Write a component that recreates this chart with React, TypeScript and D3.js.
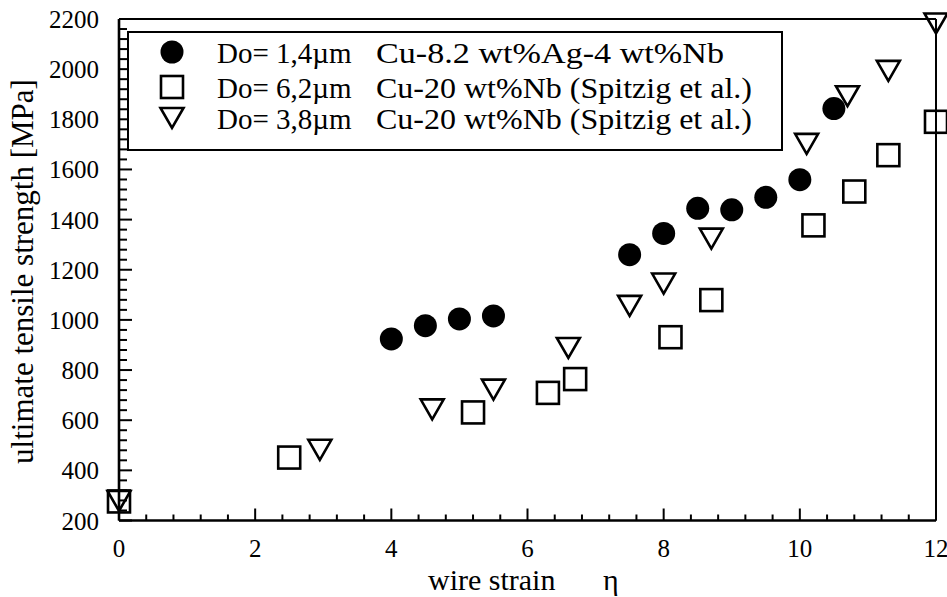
import React from "react";
import * as d3 from "d3";

const circleX = [4, 4.5, 5, 5.5, 7.5, 8, 8.5, 9, 9.5, 10, 10.5];
const circleY = [924, 977, 1004, 1016, 1260, 1345, 1445, 1439, 1489, 1559, 1843];
const squareX = [0, 2.5, 5.2, 6.3, 6.7, 8.1, 8.7, 10.2, 10.8, 11.3, 12];
const squareY = [276, 451, 631, 709, 764, 931, 1079, 1377, 1512, 1657, 1790];
const triX = [0, 2.95, 4.6, 5.5, 6.6, 7.5, 8, 8.7, 10.1, 10.7, 11.3, 12];
const triY = [278, 482, 643, 722, 888, 1056, 1145, 1324, 1702, 1892, 1993, 2182];

const xTicks = [0, 2, 4, 6, 8, 10, 12];
const yTicks = [200, 400, 600, 800, 1000, 1200, 1400, 1600, 1800, 2000, 2200];

const legendDo = ["Do= 1,4µm", "Do= 6,2µm", "Do= 3,8µm"];
const legendAlloy = ["Cu-8.2 wt%Ag-4 wt%Nb", "Cu-20 wt%Nb (Spitzig et al.)", "Cu-20 wt%Nb (Spitzig et al.)"];
const legendAlloyWidth = [348, 376, 376];

const W = 947, H = 597;
const L = 119, R = 936, T = 19, B = 520.5;
const FONT = "'Liberation Serif', 'Times New Roman', serif";

const x = d3.scaleLinear().domain([0, 12]).range([L, R]);
const y = d3.scaleLinear().domain([200, 2200]).range([B, T]);

const SQ = 22; // square side
const TW = 23, TH = 20; // triangle width/height

function Circle({ cx, cy }: { cx: number; cy: number }) {
  return <circle cx={cx} cy={cy} r={11.5} fill="#000" />;
}
function Square({ cx, cy }: { cx: number; cy: number }) {
  return (
    <rect x={cx - SQ / 2} y={cy - SQ / 2} width={SQ} height={SQ} fill="none" stroke="#000" strokeWidth={2.6} />
  );
}
function Tri({ cx, cy }: { cx: number; cy: number }) {
  const p = d3.path();
  p.moveTo(cx - TW / 2, cy - TH / 2);
  p.lineTo(cx + TW / 2, cy - TH / 2);
  p.lineTo(cx, cy + TH / 2);
  p.closePath();
  return <path d={p.toString()} fill="none" stroke="#000" strokeWidth={2.6} strokeLinejoin="miter" />;
}

export default function App() {
  const xMinor = d3.range(0, 12.0001, 0.4).filter((v) => Math.abs(v / 2 - Math.round(v / 2)) > 1e-6);
  const yMinor = d3.range(200, 2200.001, 40).filter((v) => v % 200 !== 0);
  const legendRowY = [52, 87, 118];
  return (
    <svg width={W} height={H} style={{ position: "absolute", left: 0, top: 0, background: "#fff" }}>
      <rect x={0} y={0} width={W} height={H} fill="#fff" />
      {/* frame */}
      <line x1={R} y1={T} x2={R} y2={B} stroke="#000" strokeWidth={2} />
      <line x1={L} y1={T} x2={R} y2={T} stroke="#000" strokeWidth={2} />
      <line x1={L} y1={T} x2={L} y2={B} stroke="#000" strokeWidth={2.6} />
      <line x1={L} y1={B} x2={R} y2={B} stroke="#000" strokeWidth={2.6} />
      {/* x ticks */}
      {xTicks.map((t) => (
        <line key={"xt" + t} x1={x(t)} x2={x(t)} y1={B} y2={B - 12} stroke="#000" strokeWidth={2} />
      ))}
      {xMinor.map((t) => (
        <line key={"xm" + t} x1={x(t)} x2={x(t)} y1={B} y2={B - 6} stroke="#000" strokeWidth={2} />
      ))}
      {yTicks.map((t) => (
        <line key={"yt" + t} x1={L} x2={L + 13} y1={y(t)} y2={y(t)} stroke="#000" strokeWidth={2} />
      ))}
      {yMinor.map((t) => (
        <line key={"ym" + t} x1={L} x2={L + 8} y1={y(t)} y2={y(t)} stroke="#000" strokeWidth={2} />
      ))}
      {/* tick labels */}
      {xTicks.map((t) => (
        <text key={"xl" + t} x={x(t)} y={557} textAnchor="middle" fontFamily={FONT} fontSize={25}>
          {t}
        </text>
      ))}
      {yTicks.map((t) => (
        <text key={"yl" + t} x={99} y={y(t) + 9} textAnchor="end" fontFamily={FONT} fontSize={25}>
          {t}
        </text>
      ))}
      {/* axis labels */}
      <text x={428} y={590} fontFamily={FONT} fontSize={30}>wire strain</text>
      <text x={603} y={590} fontFamily={FONT} fontSize={30}>η</text>
      <text transform={`translate(33, 271.5) rotate(-90)`} textAnchor="middle" fontFamily={FONT} fontSize={31}>
        ultimate tensile strength [MPa]
      </text>
      {/* legend */}
      <rect x={128} y={32} width={654} height={118} fill="#fff" stroke="#000" strokeWidth={2} />
      <Circle cx={172} cy={legendRowY[0]} />
      <Square cx={172} cy={legendRowY[1]} />
      <Tri cx={172} cy={legendRowY[2]} />
      {legendDo.map((lbl, i) => (
        <g key={"lg" + i}>
          <text x={217} y={legendRowY[i] + 11} fontFamily={FONT} fontSize={29}>{lbl}</text>
          <text x={376} y={legendRowY[i] + 11} fontFamily={FONT} fontSize={29}
            textLength={legendAlloyWidth[i]} lengthAdjust="spacingAndGlyphs">{legendAlloy[i]}</text>
        </g>
      ))}
      {/* data */}
      {squareX.map((v, i) => (
        <Square key={"s" + i} cx={x(v)} cy={y(squareY[i])} />
      ))}
      {triX.map((v, i) => (
        <Tri key={"t" + i} cx={x(v)} cy={y(triY[i])} />
      ))}
      {circleX.map((v, i) => (
        <Circle key={"c" + i} cx={x(v)} cy={y(circleY[i])} />
      ))}
    </svg>
  );
}
